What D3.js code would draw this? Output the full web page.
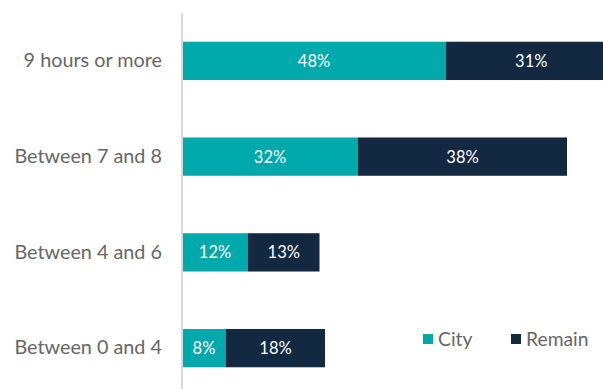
<!DOCTYPE html>
<html>
<head>
<meta charset="utf-8">
<script src="https://cdn.jsdelivr.net/npm/d3@7"></script>
<style>
  html, body { margin: 0; padding: 0; background: #fff; }
  svg { display: block; font-family: Lato, "Open Sans", sans-serif; }
</style>
</head>
<body>
<svg id="chart" width="603" height="389"></svg>
<script>
// Sleep duration groups, top to bottom
const categories = ["9 hours or more", "Between 7 and 8", "Between 4 and 6", "Between 0 and 4"];
// Share of respondents (%)
const cityValues = [48, 32, 12, 8];
const remainValues = [31, 38, 13, 18];
const seriesNames = ["City", "Remain"];
const seriesColors = ["#00A9AB", "#132841"];

const svg = d3.select("#chart");
const W = 603, H = 389;

const rows = categories.map((c, i) => ({ category: c, City: cityValues[i], Remain: remainValues[i] }));
const stacked = d3.stack().keys(seriesNames)(rows);

const x = d3.scaleLinear().domain([0, 80]).range([182, 622]);
const y = d3.scaleBand().domain(categories).range([13, 396]).paddingInner(0.6).paddingOuter(0.3);
const color = d3.scaleOrdinal().domain(seriesNames).range(seriesColors);

// Bars
const layer = svg.append("g").selectAll("g").data(stacked).join("g")
  .attr("fill", d => color(d.key));
layer.selectAll("rect").data(d => d.map(v => ({ key: d.key, v }))).join("rect")
  .attr("x", d => x(d.v[0]))
  .attr("y", d => y(d.v.data.category))
  .attr("width", d => x(d.v[1]) - x(d.v[0]))
  .attr("height", y.bandwidth());

// Value labels inside bars
layer.selectAll("text").data(d => d.map(v => ({ key: d.key, v }))).join("text")
  .attr("x", d => (x(d.v[0]) + x(d.v[1])) / 2)
  .attr("y", d => y(d.v.data.category) + y.bandwidth() / 2)
  .attr("dy", "0.36em")
  .attr("text-anchor", "middle")
  .attr("fill", "#fff")
  .attr("font-size", 16.5)
  .text(d => (d.v[1] - d.v[0]) + "%");

// Category axis
const axis = svg.append("g").attr("transform", `translate(${x(0)},0)`)
  .call(d3.axisLeft(y).tickSize(0).tickPadding(20));
axis.select(".domain").remove();
axis.selectAll("text").attr("font-size", 19.8).attr("fill", "#666666")
  .attr("font-family", "Lato, 'Open Sans', sans-serif");
svg.append("line")
  .attr("x1", x(0)).attr("x2", x(0)).attr("y1", 13).attr("y2", H)
  .attr("stroke", "#d9d9d9").attr("stroke-width", 2);

// Legend
const legendPos = [423, 511];
const legend = svg.append("g").selectAll("g").data(seriesNames).join("g")
  .attr("transform", (d, i) => `translate(${legendPos[i]},334)`);
legend.append("rect").attr("width", 10).attr("height", 10).attr("fill", d => color(d));
legend.append("text").attr("x", 15).attr("y", 5).attr("dy", "0.36em")
  .attr("font-size", 19.3).attr("fill", "#666666").text(d => d);
</script>
</body>
</html>
